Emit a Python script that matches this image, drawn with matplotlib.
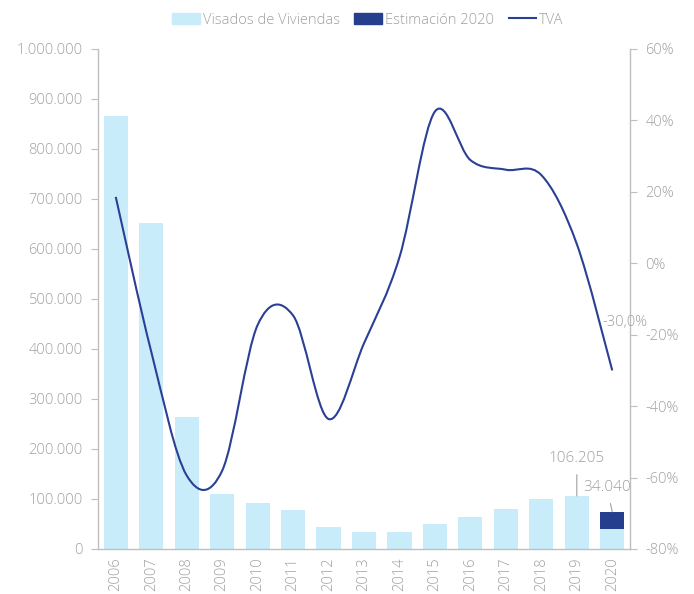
import matplotlib
matplotlib.use('Agg')
import matplotlib.pyplot as plt
from matplotlib.path import Path
from matplotlib.patches import PathPatch, Patch
from matplotlib.lines import Line2D
from matplotlib.ticker import FuncFormatter, MultipleLocator

plt.rcParams['font.family'] = ['Open Sans', 'DejaVu Sans']
plt.rcParams['font.weight'] = 'light'

years = ['2006', '2007', '2008', '2009', '2010', '2011', '2012', '2013',
         '2014', '2015', '2016', '2017', '2018', '2019', '2020']
visados = [865561, 651427, 264795, 110849, 91662, 78286, 44162, 34288,
           34873, 49695, 64038, 80786, 100733, 106205, 40303]
estimacion = [0, 0, 0, 0, 0, 0, 0, 0, 0, 0, 0, 0, 0, 0, 34040]
tva = [18.6, -24.7, -59.4, -58.1, -17.3, -14.6, -43.6, -22.4, 1.7,
       42.5, 28.9, 26.2, 24.7, 5.4, -30.0]

light = '#c9ecfb'
dark = '#253f8e'
line_col = '#2b3f95'
grey = '#a0a0a0'
axis_col = '#bfbfbf'

fig = plt.figure(figsize=(6.94, 5.94), dpi=100)
ax = fig.add_axes([98 / 694, 1 - 549 / 594, 532 / 694, 500 / 594])
ax2 = ax.twinx()

x = list(range(len(years)))
ax.bar(x, visados, width=0.68, color=light, zorder=2)
ax.bar(x, estimacion, width=0.68, bottom=visados, color=dark, zorder=2)

ax.set_xlim(-0.5, len(years) - 0.5)
ax.set_ylim(0, 1000000)
ax.yaxis.set_major_locator(MultipleLocator(100000))
ax.yaxis.set_major_formatter(FuncFormatter(lambda v, p: f'{int(v):,}'.replace(',', '.')))
ax.set_xticks(x)
ax.set_xticklabels(years, rotation=90)

ax2.set_ylim(-80, 60)
ax2.yaxis.set_major_locator(MultipleLocator(20))
ax2.yaxis.set_major_formatter(FuncFormatter(lambda v, p: f'{int(v)}%'))

for a in (ax, ax2):
    for s in a.spines.values():
        s.set_visible(False)
    a.tick_params(colors=axis_col, labelcolor=grey, labelsize=10.5)
ax.spines['left'].set_visible(True)
ax.spines['bottom'].set_visible(True)
ax2.spines['right'].set_visible(True)
for s in (ax.spines['left'], ax.spines['bottom'], ax2.spines['right']):
    s.set_color(axis_col)
    s.set_linewidth(1.0)
ax.tick_params(axis='x', length=0, pad=6)
ax.tick_params(axis='y', length=5, pad=6)
ax2.tick_params(axis='y', length=5, pad=6)

# smoothed TVA line (Catmull-Rom style bezier, like the spreadsheet)
pts = list(zip(x, tva))
verts = [pts[0]]
codes = [Path.MOVETO]
n = len(pts)
for i in range(n - 1):
    p0 = pts[max(i - 1, 0)]
    p1 = pts[i]
    p2 = pts[i + 1]
    p3 = pts[min(i + 2, n - 1)]
    c1 = (p1[0] + (p2[0] - p0[0]) / 6, p1[1] + (p2[1] - p0[1]) / 6)
    c2 = (p2[0] - (p3[0] - p1[0]) / 6, p2[1] - (p3[1] - p1[1]) / 6)
    verts += [c1, c2, p2]
    codes += [Path.CURVE4] * 3
ax2.add_patch(PathPatch(Path(verts, codes), facecolor='none', edgecolor=line_col,
                        lw=1.5, zorder=3))

# data labels
ax.annotate('106.205', xy=(13, visados[13]), xytext=(13, visados[13] + 74000),
            ha='center', va='center', color=grey, fontsize=11,
            arrowprops=dict(arrowstyle='-', color=grey, lw=0.8, shrinkA=4, shrinkB=0))
ax.annotate('34.040', xy=(14, visados[14] + estimacion[14]),
            xytext=(13.85, visados[14] + estimacion[14] + 48000),
            ha='center', va='center', color=grey, fontsize=11,
            arrowprops=dict(arrowstyle='-', color=grey, lw=0.8, shrinkA=4, shrinkB=0))
ax2.annotate('-30,0%', xy=(14, tva[14]), xytext=(14.35, tva[14] + 13.5),
             ha='center', va='center', color=grey, fontsize=10.5)

handles = [Patch(color=light), Patch(color=dark), Line2D([], [], color=line_col, lw=1.5)]
labels = ['Visados de Viviendas', 'Estimación 2020', 'TVA']
leg = fig.legend(handles, labels, loc='center', bbox_to_anchor=(0.53, 0.966), ncol=3,
                 frameon=False, fontsize=10.5, handlelength=1.9, handleheight=0.8,
                 handletextpad=0.2, columnspacing=1.0)
for t in leg.get_texts():
    t.set_color(grey)

fig.savefig('out.png', dpi=100)
